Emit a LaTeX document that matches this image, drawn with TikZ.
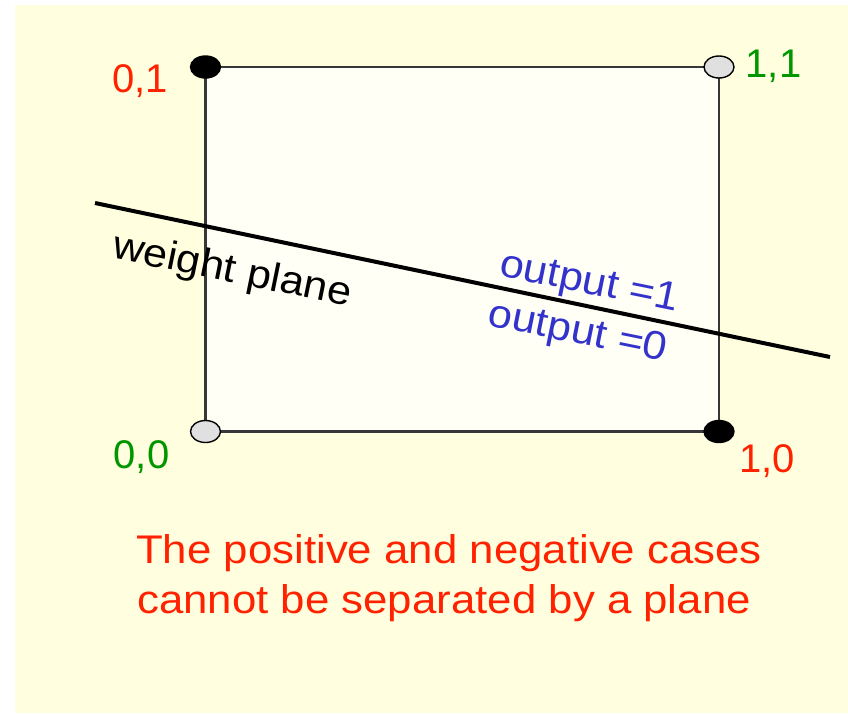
\documentclass[tikz,border=0pt]{standalone}
\usepackage{fontspec}
\setmainfont{Liberation Sans}
\newfontfamily\widefont[FakeStretch=1.08]{Liberation Sans}
\newfontfamily\capfont[FakeStretch=1.095]{Liberation Sans}
\usetikzlibrary{shapes.geometric}
\definecolor{bgyellow}{RGB}{255,255,224}
\definecolor{boxfill}{RGB}{255,255,246}
\definecolor{labred}{RGB}{255,34,0}
\definecolor{labgreen}{RGB}{0,150,0}
\definecolor{labblue}{RGB}{51,51,204}
\definecolor{edgegray}{RGB}{55,55,55}
\tikzset{
  dotbase/.style={ellipse, draw=black, line width=1.4pt, inner sep=0pt,
    minimum width=30pt, minimum height=22pt},
  dotpos/.style={dotbase, fill=black},
  dotneg/.style={dotbase, fill=black!12},
  cornerlab/.style={font=\fontsize{40}{48}\selectfont, anchor=base, inner sep=0pt},
  slanted/.style={font=\widefont\fontsize{40}{48}\selectfont, rotate=-11.5, inner sep=0pt},
  caption/.style={font=\capfont\fontsize{40}{48}\selectfont, text=labred, anchor=base west, inner sep=0pt},
  boxedge/.style={draw=edgegray, line width=2.2pt, fill=boxfill},
  planeline/.style={draw=black, line width=4pt}
}
\begin{document}
\begin{tikzpicture}[x=1pt,y=-1pt]
  \useasboundingbox (0,0) rectangle (848,713);
  \fill[white] (0,0) rectangle (848,713);
  \fill[bgyellow] (15,5) rectangle (848,713);
  % corners
  \coordinate (c00) at (205.5,431.5);
  \coordinate (c10) at (719,431.5);
  \coordinate (c11) at (719,67);
  \coordinate (c01) at (205.5,67);
  \path[boxedge] (c00) -- (c10) -- (c11) -- (c01) -- cycle;
  % weight plane line
  \coordinate (w1) at (95,203);
  \coordinate (w2) at (830,357);
  \path[planeline] (w1) -- (w2);
  % dots
  \node[dotneg] (p00) at (c00) {};
  \node[dotpos] (p10) at (c10) {};
  \node[dotneg] (p11) at (c11) {};
  \node[dotpos] (p01) at (c01) {};
  % corner labels
  \node[cornerlab, text=labred] (l01) at (140,92) {0,1};
  \node[cornerlab, text=labgreen] (l11) at (773.5,77) {1,1};
  \node[cornerlab, text=labgreen] (l00) at (141.5,468) {0,0};
  \node[cornerlab, text=labred] (l10) at (767,472.5) {1,0};
  % slanted texts
  \node[slanted, text=black] (wp) at (232,272) {weight plane};
  \node[slanted, text=labblue] (o1) at (589,284) {output =1};
  \node[slanted, text=labblue] (o0) at (577.5,333.5) {output =0};
  % caption
  \node[caption] (cap1) at (136,563) {The positive and negative cases};
  \node[caption] (cap2) at (137,613) {cannot be separated by a plane};
\end{tikzpicture}
\end{document}
